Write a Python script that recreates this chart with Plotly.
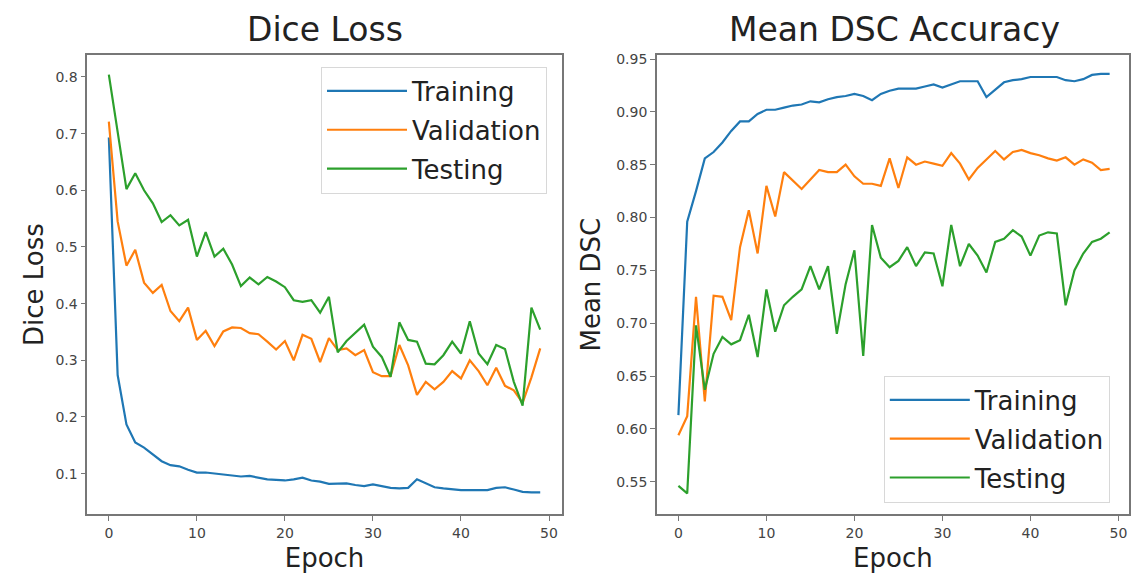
import plotly.graph_objects as go

epochs = list(range(50))

train_loss = [0.693,0.274,0.187,0.155,0.146,0.134,0.122,0.115,0.113,0.107,
              0.102,0.102,0.100,0.098,0.097,0.095,0.096,0.093,0.090,0.089,
              0.088,0.090,0.093,0.088,0.086,0.082,0.083,0.083,0.080,0.078,
              0.081,0.078,0.075,0.074,0.075,0.090,0.083,0.076,0.074,0.072,
              0.071,0.071,0.071,0.071,0.075,0.076,0.072,0.068,0.067,0.067]
val_loss = [0.721,0.545,0.467,0.495,0.437,0.419,0.433,0.387,0.369,0.393,
            0.336,0.352,0.325,0.351,0.358,0.357,0.348,0.346,0.333,0.319,
            0.334,0.300,0.345,0.338,0.297,0.339,0.318,0.321,0.309,0.318,
            0.279,0.272,0.272,0.327,0.291,0.239,0.262,0.249,0.262,0.281,
            0.268,0.300,0.281,0.256,0.287,0.255,0.247,0.225,0.270,0.321]
test_loss = [0.804,0.700,0.602,0.630,0.600,0.577,0.544,0.556,0.538,0.548,
             0.483,0.526,0.483,0.497,0.469,0.431,0.446,0.434,0.447,0.439,
             0.429,0.406,0.403,0.406,0.384,0.412,0.314,0.334,0.348,0.363,
             0.324,0.306,0.271,0.367,0.336,0.333,0.294,0.293,0.309,0.333,
             0.312,0.369,0.312,0.293,0.327,0.320,0.262,0.220,0.393,0.354]

train_dsc = [0.613,0.796,0.825,0.856,0.862,0.871,0.882,0.891,0.891,0.898,
             0.902,0.902,0.904,0.906,0.907,0.910,0.909,0.912,0.914,0.915,
             0.917,0.915,0.911,0.917,0.920,0.922,0.922,0.922,0.924,0.926,
             0.923,0.926,0.929,0.929,0.929,0.914,0.921,0.928,0.930,0.931,
             0.933,0.933,0.933,0.933,0.930,0.929,0.931,0.935,0.936,0.936]
val_dsc = [0.594,0.612,0.725,0.626,0.726,0.725,0.703,0.772,0.807,0.766,
           0.830,0.801,0.843,0.835,0.827,0.836,0.845,0.843,0.843,0.850,
           0.839,0.832,0.832,0.830,0.856,0.828,0.857,0.850,0.853,0.851,
           0.849,0.861,0.851,0.836,0.847,0.855,0.863,0.855,0.862,0.864,
           0.861,0.859,0.856,0.854,0.857,0.850,0.855,0.852,0.845,0.846]
test_dsc = [0.546,0.539,0.698,0.637,0.671,0.687,0.680,0.684,0.708,0.668,
            0.732,0.692,0.717,0.725,0.732,0.754,0.732,0.754,0.690,0.737,
            0.769,0.669,0.793,0.762,0.753,0.759,0.772,0.754,0.767,0.766,
            0.735,0.793,0.754,0.775,0.764,0.748,0.777,0.780,0.788,0.782,
            0.764,0.783,0.786,0.785,0.717,0.750,0.766,0.777,0.780,0.786]

series_names = ["Training", "Validation", "Testing"]
colors = ["#1f77b4", "#ff7f0e", "#2ca02c"]

FONT = "DejaVu Sans"

fig = go.Figure()

for name, col, ys in zip(series_names, colors, [train_loss, val_loss, test_loss]):
    fig.add_trace(go.Scatter(x=epochs, y=ys, mode="lines", name=name,
                             line=dict(color=col, width=2.2), legendgroup="L" + name,
                             xaxis="x", yaxis="y", legend="legend"))
for name, col, ys in zip(series_names, colors, [train_dsc, val_dsc, test_dsc]):
    fig.add_trace(go.Scatter(x=epochs, y=ys, mode="lines", name=name,
                             line=dict(color=col, width=2.2), legendgroup="R" + name,
                             xaxis="x2", yaxis="y2", legend="legend2"))

axis_common = dict(showline=True, mirror=True, linecolor="#777", linewidth=1.5,
                   ticks="outside", ticklen=5, tickcolor="#777", tickwidth=1.3,
                   showgrid=False, zeroline=False,
                   tickfont=dict(family=FONT, size=14, color="#444"))

ydom = [0.106, 0.911]
title_font = dict(family=FONT, size=26, color="#222")
legend_font = dict(family=FONT, size=26, color="#222")

fig.update_layout(
    width=1131, height=575,
    margin=dict(l=0, r=0, t=0, b=0),
    paper_bgcolor="white", plot_bgcolor="white",
    font=dict(family=FONT, color="#222"),
    xaxis=dict(domain=[0.0773, 0.4976], range=[-2.45, 51.45],
               tickvals=[0, 10, 20, 30, 40, 50], anchor="y",
               title=dict(text="Epoch", font=title_font, standoff=9),
               **axis_common),
    yaxis=dict(domain=ydom, range=[0.028, 0.839], anchor="x",
               tickvals=[0.1, 0.2, 0.3, 0.4, 0.5, 0.6, 0.7, 0.8], tickformat=".1f",
               title=dict(text="Dice Loss", font=title_font, standoff=4),
               **axis_common),
    xaxis2=dict(domain=[0.5818, 1.0], range=[-2.45, 51.2],
                tickvals=[0, 10, 20, 30, 40, 50], anchor="y2",
                title=dict(text="Epoch", font=title_font, standoff=9),
                **axis_common),
    yaxis2=dict(domain=ydom, range=[0.519, 0.954], anchor="x2",
                tickvals=[0.55, 0.60, 0.65, 0.70, 0.75, 0.80, 0.85, 0.90, 0.95], tickformat=".2f",
                title=dict(text="Mean DSC", font=title_font, standoff=8),
                **axis_common),
    legend=dict(x=0.4845, y=1 - 63 / 575, xanchor="right", yanchor="top",
                bgcolor="white", bordercolor="#d8d8d8", borderwidth=1,
                font=legend_font, itemwidth=80, tracegroupgap=2),
    legend2=dict(x=0.983, y=1 - 502 / 575, xanchor="right", yanchor="bottom",
                 bgcolor="white", bordercolor="#d8d8d8", borderwidth=1,
                 font=legend_font, itemwidth=80, tracegroupgap=2),
    annotations=[
        dict(text="Dice Loss", x=0.2875, y=1 - 26 / 575, xref="paper", yref="paper",
             xanchor="center", yanchor="middle", showarrow=False,
             font=dict(family=FONT, size=33, color="#222")),
        dict(text="Mean DSC Accuracy", x=0.7925, y=1 - 26 / 575, xref="paper", yref="paper",
             xanchor="center", yanchor="middle", showarrow=False,
             font=dict(family=FONT, size=33, color="#222")),
    ],
)

fig.write_html("out.html", config={"displayModeBar": False},
               post_script="document.body.style.margin='0px';document.body.style.padding='0px';document.body.style.overflow='hidden';")
